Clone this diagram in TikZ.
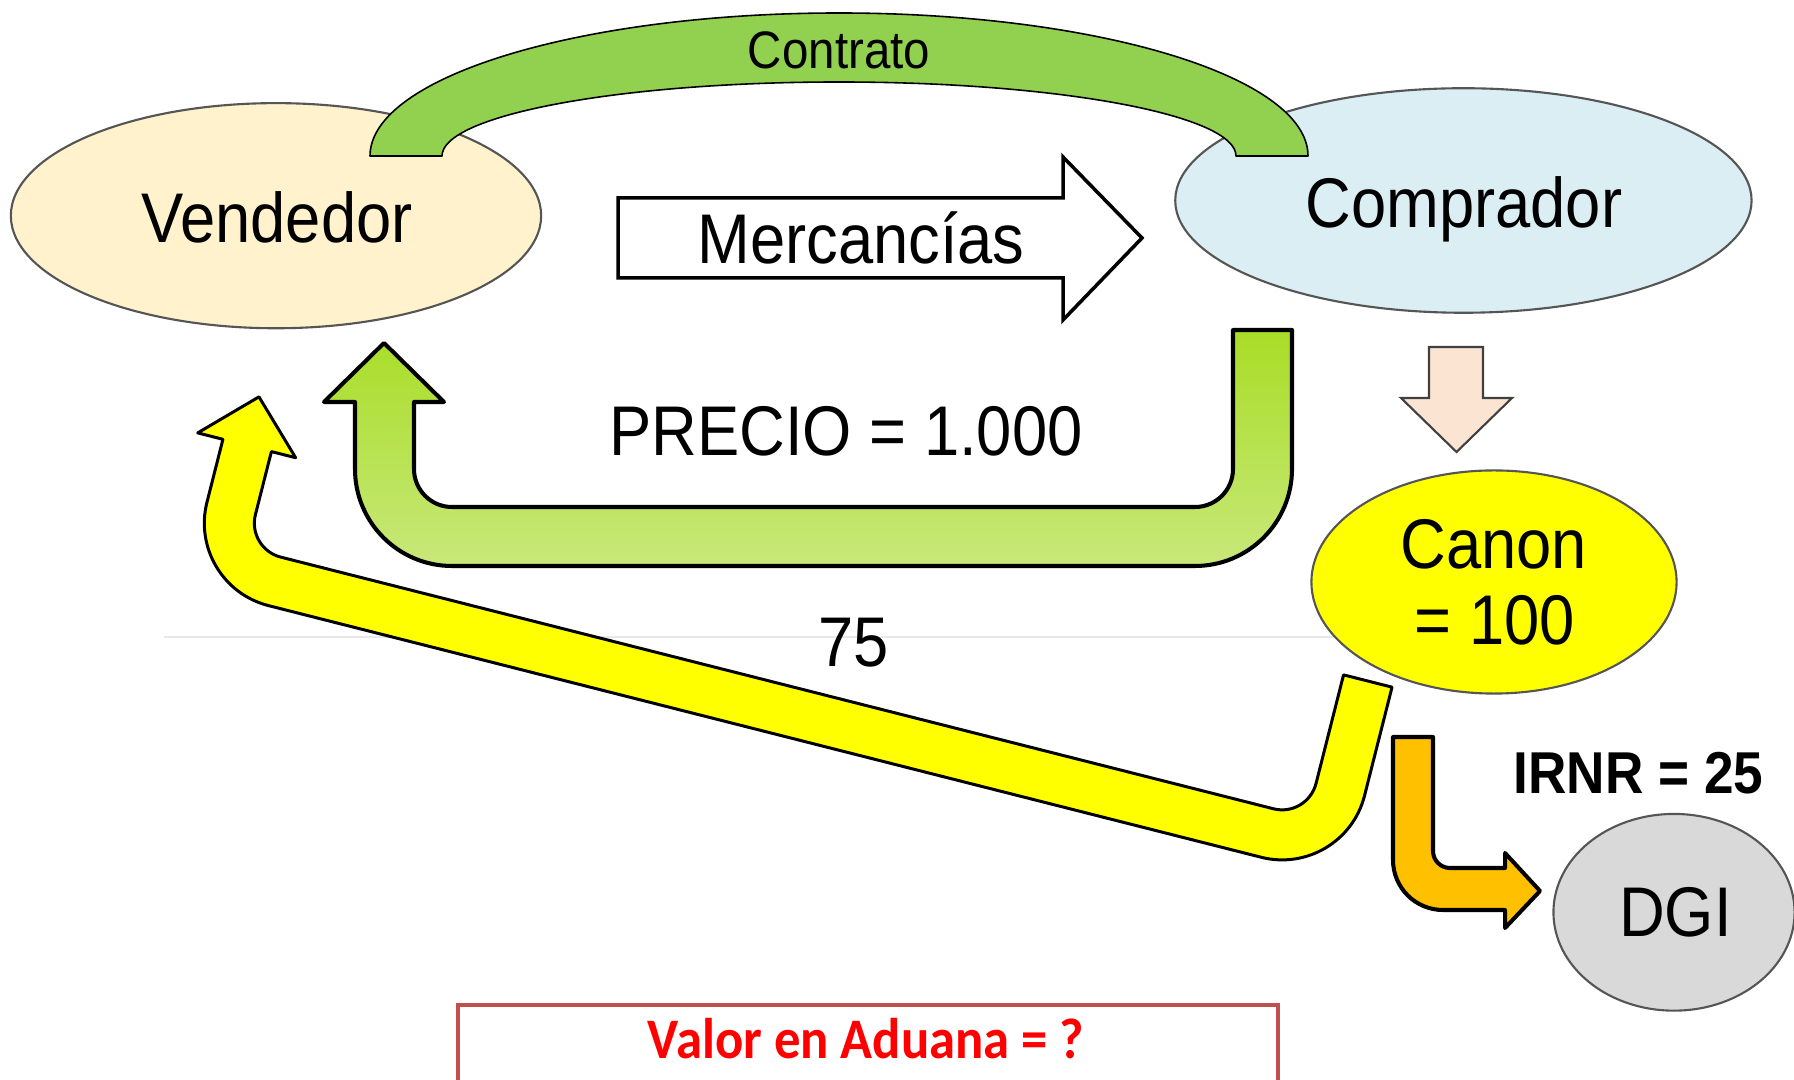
\documentclass[tikz,border=0pt]{standalone}
\usepackage{fontspec}
\setmainfont{Liberation Sans}
\newfontfamily\arn[FakeStretch=0.9]{Liberation Sans}
\newfontfamily\carl[FakeStretch=0.92]{Carlito}
\usetikzlibrary{shapes.geometric}
\definecolor{vendfill}{RGB}{255,242,204}
\definecolor{compfill}{RGB}{218,238,243}
\definecolor{canonfill}{RGB}{255,255,0}
\definecolor{dgifill}{RGB}{217,217,217}
\definecolor{ellgray}{RGB}{85,85,85}
\definecolor{contratofill}{RGB}{146,208,80}
\definecolor{gtop}{RGB}{168,221,38}
\definecolor{gbot}{RGB}{200,232,122}
\definecolor{orangefill}{RGB}{255,192,0}
\definecolor{peachfill}{RGB}{252,228,210}
\definecolor{peachline}{RGB}{64,64,64}
\definecolor{boxred}{RGB}{192,80,77}
\definecolor{faint}{RGB}{232,232,232}
\begin{document}
\begin{tikzpicture}[x=0.01cm,y=-0.01cm,
  ell/.style={ellipse, draw=ellgray, line width=0.6pt, inner sep=0},
  lbl/.style={anchor=base, inner sep=0, font=\arn\fontsize{20}{24}\selectfont},
  blk/.style={draw=black, line join=round}]

\clip (0,0) rectangle (1794,1080);
\fill[white] (0,0) rectangle (1794,1080);
\draw[faint, line width=0.6pt] (164,637) -- (1400,637);

% ellipses
\node[ell, fill=vendfill, minimum width=5.30cm, minimum height=2.25cm] (vend) at (276,215.7) {};
\node[ell, fill=compfill, minimum width=5.76cm, minimum height=2.244cm] (comp) at (1463.4,200.5) {};
\node[ell, fill=canonfill, minimum width=3.65cm, minimum height=2.23cm] (canon) at (1494,582) {};
\node[ell, fill=dgifill, minimum width=2.41cm, minimum height=1.966cm] (dgi) at (1674,912.3) {};

% Contrato block arc
\draw[blk, fill=contratofill, line width=0.45pt]
  (370,156) arc[start angle=180,end angle=360,x radius=469,y radius=143]
  -- (1236,156) arc[start angle=0,end angle=-180,x radius=397,y radius=74] -- cycle;

% Mercancias arrow
\draw[draw=black, fill=white, line width=1pt, line join=miter]
  (618,198) -- (1063,198) -- (1063,157) -- (1142,238) -- (1063,320) -- (1063,278) -- (618,278) -- cycle;

% Precio U arrow
\draw[blk, line width=1.15pt, top color=gtop, bottom color=gbot]
  (384,343) -- (444,402) -- (414,402) -- (414,469)
  arc[start angle=180,end angle=90,radius=38]
  -- (1195,507) arc[start angle=90,end angle=0,radius=38]
  -- (1233,330) -- (1292,330) -- (1292,469)
  arc[start angle=0,end angle=90,radius=97]
  -- (452,566) arc[start angle=90,end angle=180,radius=97]
  -- (355,402) -- (324,402) -- cycle;

% peach down arrow
\draw[draw=peachline, fill=peachfill, line width=0.6pt]
  (1429,347) -- (1483,347) -- (1483,398) -- (1512,398) -- (1456.5,452) -- (1401,398) -- (1429,398) -- cycle;

% yellow rotated U arrow
\begin{scope}[x={(0.009694cm,-0.002453cm)}, y={(0.002453cm,0.009694cm)}]
\draw[blk, fill=canonfill, line width=0.85pt]
  (1468,-324) -- (1518,-324) -- (1518,-436)
  arc[start angle=0,end angle=-90,radius=85]
  -- (409,-521) arc[start angle=-90,end angle=-180,radius=85]
  -- (324,-371) -- (298,-371) -- (348.5,-321) -- (399,-371) -- (374,-371) -- (374,-436)
  arc[start angle=180,end angle=270,radius=35]
  -- (1433,-471) arc[start angle=270,end angle=360,radius=35]
  -- cycle;
\end{scope}

% orange L arrow
\draw[blk, fill=orangefill, line width=1.15pt]
  (1393,737) -- (1433,737) -- (1433,851)
  arc[start angle=180,end angle=90,radius=17]
  -- (1505,868) -- (1505,853) -- (1540,891) -- (1505,928) -- (1505,910) -- (1443,910)
  arc[start angle=90,end angle=180,radius=50]
  -- cycle;

% red box
\draw[boxred, line width=1.15pt] (458,1100) -- (458,1005) -- (1278,1005) -- (1278,1100);

% texts
\node[lbl] (tv) at (277,242.5) {Vendedor};
\node[lbl] (tc) at (1464,227.7) {Comprador};
\node[lbl] (tm) at (861,264) {Mercancías};
\node[lbl, font=\arn\fontsize{15}{18}\selectfont] (tco) at (839,68.5) {Contrato};
\node[lbl] (tp) at (846,456) {PRECIO = 1.000};
\node[lbl] (t75) at (853.5,666.7) {75};
\node[lbl] (tca) at (1493.6,568.6) {Canon};
\node[lbl] (tca2) at (1494.7,645) {= 100};
\node[lbl] (td) at (1675.5,936.7) {DGI};
\node[lbl, font=\arn\bfseries\fontsize{16.8}{20}\selectfont] (ti) at (1638.6,794) {IRNR = 25};
\node[anchor=base, inner sep=0, text=red, font=\carl\bfseries\fontsize{16.3}{20}\selectfont] (tval) at (866,1058.3) {Valor en Aduana = ?};
\end{tikzpicture}
\end{document}
